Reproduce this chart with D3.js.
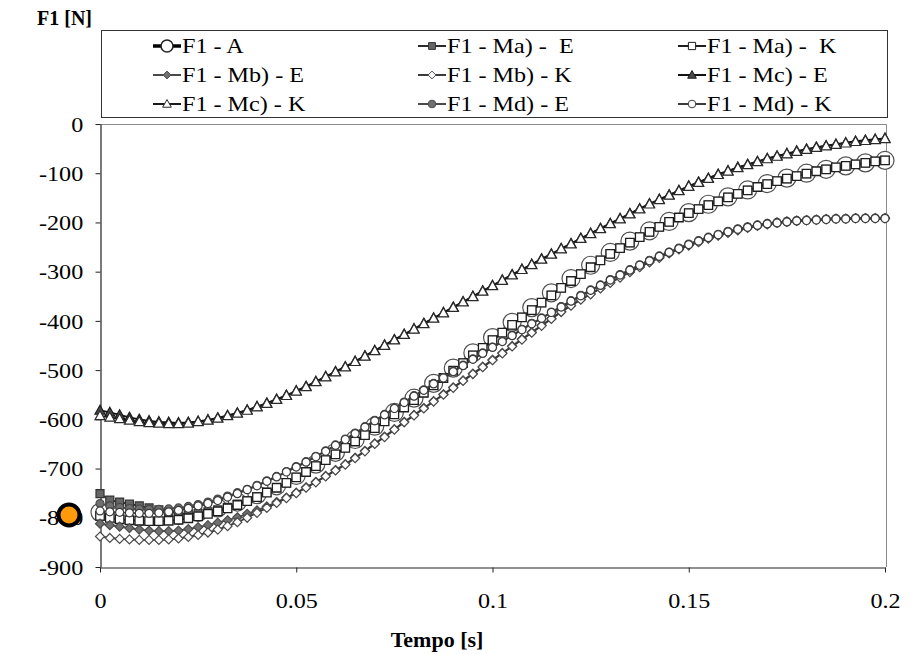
<!DOCTYPE html>
<html>
<head>
<meta charset="utf-8">
<script src="https://cdn.jsdelivr.net/npm/d3@7"></script>
<style>
  html, body { margin: 0; padding: 0; background: #fff; }
  svg { display: block; }
  text { font-family: "Liberation Serif", "Times New Roman", serif; fill: #000; }
</style>
</head>
<body>
<svg id="chart" width="915" height="654"></svg>
<script>
// Sample times [s]
const tFine = [0,0.0025,0.005,0.0075,0.01,0.0125,0.015,0.0175,0.02,0.0225,
  0.025,0.0275,0.03,0.0325,0.035,0.0375,0.04,0.0425,0.045,0.0475,
  0.05,0.0525,0.055,0.0575,0.06,0.0625,0.065,0.0675,0.07,0.0725,
  0.075,0.0775,0.08,0.0825,0.085,0.0875,0.09,0.0925,0.095,0.0975,
  0.1,0.1025,0.105,0.1075,0.11,0.1125,0.115,0.1175,0.12,0.1225,
  0.125,0.1275,0.13,0.1325,0.135,0.1375,0.14,0.1425,0.145,0.1475,
  0.15,0.1525,0.155,0.1575,0.16,0.1625,0.165,0.1675,0.17,0.1725,
  0.175,0.1775,0.18,0.1825,0.185,0.1875,0.19,0.1925,0.195,0.1975,0.2];
const tCoarse = [0,0.005,0.01,0.015,0.02,0.025,0.03,0.035,0.04,0.045,
  0.05,0.055,0.06,0.065,0.07,0.075,0.08,0.085,0.09,0.095,
  0.1,0.105,0.11,0.115,0.12,0.125,0.13,0.135,0.14,0.145,
  0.15,0.155,0.16,0.165,0.17,0.175,0.18,0.185,0.19,0.195,0.2];

// F1 [N]
const f1A = [-789,-795,-798,-798,-795,-789,-780,-768,-753,-735,
  -714,-691,-667,-641,-614,-586,-557,-527,-496,-465,
  -434,-403,-373,-343,-314,-287,-261,-238,-217,-198,
  -180,-163,-148,-134,-121,-110,-100,-92,-85,-79,-74];
const f1MaE = [-751,-764,-768,-772,-776,-780,-784,-788,-791,-792,
  -791,-788,-784,-779,-772,-765,-757,-748,-739,-729,
  -718,-707,-695,-683,-671,-658,-645,-632,-618,-604,
  -590,-576,-561,-546,-531,-516,-501,-486,-470,-455,
  -439,-424,-408,-393,-378,-363,-348,-333,-319,-305,
  -291,-277,-264,-252,-241,-230,-219,-209,-199,-190,
  -181,-173,-165,-157,-149,-142,-135,-128,-122,-116,
  -111,-106,-101,-96,-92,-88,-85,-82,-79,-76,-74];
const f1MaK = [-796,-800,-803,-805,-806,-807,-807,-806,-804,-801,
  -797,-792,-787,-781,-774,-766,-758,-749,-739,-729,
  -718,-707,-695,-683,-671,-658,-645,-632,-618,-604,
  -590,-576,-561,-546,-531,-516,-501,-486,-470,-455,
  -439,-424,-408,-393,-378,-363,-348,-333,-319,-305,
  -291,-277,-264,-252,-241,-230,-219,-209,-199,-190,
  -181,-173,-165,-157,-149,-142,-135,-128,-122,-116,
  -111,-106,-101,-96,-92,-88,-85,-82,-79,-76,-74];
const f1MbE = [-812,-815,-818,-821,-824,-826,-827,-827,-826,-823,
  -819,-815,-810,-805,-799,-792,-785,-777,-768,-759,
  -749,-738,-727,-715,-703,-691,-678,-664,-649,-635,
  -620,-605,-591,-577,-563,-549,-535,-521,-507,-493,
  -479,-465,-451,-437,-423,-409,-395,-381,-368,-356,
  -345,-333,-322,-311,-300,-290,-280,-271,-262,-254,
  -246,-239,-232,-226,-220,-215,-210,-206,-203,-200,
  -198,-196,-195,-194,-193,-192,-192,-191,-191,-191,-191];
const f1MbK = [-838,-841,-843,-844,-845,-845,-845,-844,-842,-839,
  -835,-830,-824,-817,-809,-800,-790,-780,-770,-760,
  -750,-739,-728,-716,-704,-692,-679,-665,-650,-636,
  -621,-606,-592,-578,-564,-550,-536,-522,-508,-494,
  -480,-466,-452,-438,-424,-410,-396,-382,-369,-357,
  -346,-334,-323,-312,-301,-291,-281,-272,-263,-255,
  -247,-240,-233,-227,-221,-216,-211,-207,-204,-201,
  -199,-197,-196,-195,-194,-193,-193,-192,-192,-192,-192];
const f1McE = [-582,-586,-591,-596,-600,-603,-605,-606,-607,-606,
  -604,-601,-597,-592,-587,-581,-574,-567,-559,-551,
  -542,-533,-523,-513,-503,-493,-482,-471,-460,-449,
  -438,-427,-416,-405,-394,-383,-372,-361,-350,-339,
  -328,-317,-306,-295,-285,-274,-264,-253,-243,-232,
  -222,-212,-202,-192,-182,-172,-162,-153,-144,-135,
  -126,-118,-110,-102,-95,-88,-82,-76,-70,-65,
  -60,-55,-51,-47,-44,-41,-38,-35,-33,-31,-29];
const f1McK = [-593,-596,-599,-602,-605,-607,-608,-609,-609,-608,
  -605,-602,-598,-593,-588,-582,-575,-568,-560,-552,
  -543,-534,-524,-514,-504,-494,-483,-472,-461,-450,
  -439,-428,-417,-406,-395,-384,-373,-362,-351,-340,
  -329,-318,-307,-296,-286,-275,-265,-254,-244,-233,
  -223,-213,-203,-193,-183,-173,-163,-154,-145,-136,
  -127,-119,-111,-103,-96,-89,-83,-77,-71,-66,
  -61,-56,-52,-48,-45,-42,-39,-36,-34,-32,-30];
const f1MdE = [-771,-776,-779,-781,-782,-783,-783,-782,-780,-777,
  -773,-768,-762,-756,-749,-742,-734,-725,-716,-706,
  -696,-686,-675,-664,-652,-640,-628,-615,-602,-590,
  -577,-565,-552,-540,-527,-515,-502,-490,-477,-465,
  -453,-441,-429,-417,-405,-394,-382,-371,-359,-348,
  -337,-327,-316,-306,-296,-286,-277,-268,-260,-252,
  -244,-237,-230,-224,-218,-213,-209,-205,-202,-200,
  -198,-196,-195,-194,-193,-192,-192,-191,-191,-191,-191];
const f1MdK = [-786,-788,-789,-790,-791,-791,-790,-788,-785,-781,
  -776,-771,-765,-758,-751,-743,-735,-726,-717,-707,
  -697,-687,-676,-665,-653,-641,-629,-616,-603,-591,
  -578,-566,-553,-541,-528,-516,-503,-491,-478,-466,
  -454,-442,-430,-418,-406,-395,-383,-372,-360,-349,
  -338,-328,-317,-307,-297,-287,-278,-269,-261,-253,
  -245,-238,-231,-225,-219,-214,-210,-206,-203,-201,
  -199,-197,-196,-195,-194,-193,-193,-192,-192,-192,-192];

const seriesNames = ["F1 - A", "F1 - Ma) -  E", "F1 - Ma) -  K",
  "F1 - Mb) - E", "F1 - Mb) - K", "F1 - Mc) - E",
  "F1 - Mc) - K", "F1 - Md) - E", "F1 - Md) - K"];

const xTicks = [0, 0.05, 0.1, 0.15, 0.2];
const xTickLabels = ["0", "0.05", "0.1", "0.15", "0.2"];
const yTicks = [0, -100, -200, -300, -400, -500, -600, -700, -800, -900];
const yTickLabels = ["0", "-100", "-200", "-300", "-400", "-500", "-600", "-700", "-800", "-900"];

// marker styles per series (drawn in series order, later on top)
const styles = [
  { t: tCoarse, v: f1A,   shape: "circle",   size: 9,   fill: "#fff",    stroke: "#505050", sw: 1.2, line: "#111", lw: 2.2 },
  { t: tFine,   v: f1MaE, shape: "square",   size: 8,   fill: "#666",    stroke: "#333", sw: 1.2, line: "#2a2a2a", lw: 1.8 },
  { t: tFine,   v: f1MaK, shape: "square",   size: 8.5, fill: "#fff",    stroke: "#1e1e1e", sw: 1.3, line: "#1e1e1e", lw: 1.8 },
  { t: tFine,   v: f1MbE, shape: "diamond",  size: 8,   fill: "#707070", stroke: "#4a4a4a", sw: 1.2, line: "#4a4a4a", lw: 1.8 },
  { t: tFine,   v: f1MbK, shape: "diamond",  size: 8,   fill: "#fff",    stroke: "#4a4a4a", sw: 1.2, line: "#3a3a3a", lw: 1.8 },
  { t: tFine,   v: f1McE, shape: "triangle", size: 9,   fill: "#4a4a4a", stroke: "#1a1a1a", sw: 1.2, line: "#111", lw: 1.8 },
  { t: tFine,   v: f1McK, shape: "triangle", size: 9,   fill: "#fff",    stroke: "#2a2a2a", sw: 1.2, line: "#1a1a1a", lw: 1.8 },
  { t: tFine,   v: f1MdE, shape: "circle",   size: 4,   fill: "#707070", stroke: "#4a4a4a", sw: 1.2, line: "#4a4a4a", lw: 1.8 },
  { t: tFine,   v: f1MdK, shape: "circle",   size: 4,   fill: "#fff",    stroke: "#3a3a3a", sw: 1.2, line: "#3a3a3a", lw: 1.8 }
];

const svg = d3.select("#chart");
const plot = { left: 100, right: 885, top: 124, bottom: 567 };

const x = d3.scaleLinear().domain([0, 0.2]).range([plot.left, plot.right]);
const y = d3.scaleLinear().domain([-900, 0]).range([plot.bottom, plot.top]);

const FONT = 21;
const STRETCH = 1.15;

// plot frame (top and right edges)
svg.append("path")
  .attr("d", `M${plot.left},${plot.top + 0.5}H${plot.right + 1.5}V${plot.bottom}`)
  .attr("fill", "none").attr("stroke", "#8a8a8a").attr("stroke-width", 1);

// axes
const yAxis = svg.append("g")
  .attr("transform", `translate(${plot.left + 0.5},0)`)
  .call(d3.axisLeft(y).tickValues(yTicks).tickFormat((d, i) => yTickLabels[i]).tickSizeInner(5).tickSizeOuter(0).tickPadding(10));
const xAxis = svg.append("g")
  .attr("transform", `translate(0,${plot.bottom + 0.5})`)
  .call(d3.axisBottom(x).tickValues(xTicks).tickFormat((d, i) => xTickLabels[i]).tickSizeInner(5).tickSizeOuter(0).tickPadding(21));

[yAxis, xAxis].forEach(ax => {
  ax.select(".domain").attr("stroke", "#222").attr("stroke-width", 1.2);
  ax.selectAll(".tick line").attr("stroke", "#222");
  ax.selectAll(".tick text")
    .attr("font-family", "'Liberation Serif', 'Times New Roman', serif")
    .attr("font-size", FONT).attr("fill", "#000")
    .attr("transform", `scale(${STRETCH},1)`);
});
yAxis.selectAll(".tick text").attr("dy", "0.34em");

function symbolPath(shape, size) {
  if (shape === "circle") return d3.symbol(d3.symbolCircle, Math.PI * size * size)();
  if (shape === "square") return d3.symbol(d3.symbolSquare, size * size)();
  if (shape === "diamond") {
    const h = size / 2 + 0.5;
    return `M0,${-h}L${h},0L0,${h}L${-h},0Z`;
  }
  if (shape === "triangle") {
    const w = size / 2 + 0.5, h = size;
    return `M0,${-h * 0.58}L${w},${h * 0.42}L${-w},${h * 0.42}Z`;
  }
}

const line = d3.line().x(d => x(d[0])).y(d => y(d[1]));

// series: line then markers
styles.forEach((s, k) => {
  const pts = s.t.map((t, i) => [t, s.v[i]]);
  const g = svg.append("g").attr("class", "series-" + k);
  g.append("path").datum(pts).attr("d", line)
    .attr("fill", "none").attr("stroke", s.line).attr("stroke-width", s.lw);
  g.selectAll("path.m").data(pts).join("path").attr("class", "m")
    .attr("d", symbolPath(s.shape, s.size))
    .attr("transform", d => `translate(${x(d[0])},${y(d[1])})`)
    .attr("fill", s.fill).attr("stroke", s.stroke).attr("stroke-width", s.sw);
});

// legend
const legend = svg.append("g");
legend.append("rect").attr("x", 101.5).attr("y", 30.5).attr("width", 786).attr("height", 87)
  .attr("fill", "#fff").attr("stroke", "#333").attr("stroke-width", 1);
const colX = [167, 432, 692];
const rowY = [46, 75, 104];
styles.forEach((s, k) => {
  const cx = colX[k % 3], cy = rowY[Math.floor(k / 3)];
  const g = legend.append("g").attr("transform", `translate(${cx},${cy})`);
  g.append("line").attr("x1", -14).attr("x2", 14).attr("y1", 0).attr("y2", 0)
    .attr("stroke", k === 0 ? "#000" : s.line).attr("stroke-width", k === 0 ? 3.5 : 2);
  const ms = k === 0 ? 6 : (s.shape === "circle" ? 3.8 : s.size * 0.85);
  g.append("path").attr("d", symbolPath(s.shape, ms))
    .attr("fill", s.fill).attr("stroke", k === 0 ? "#222" : s.stroke).attr("stroke-width", k === 0 ? 1.5 : 1);
  legend.append("text")
    .attr("transform", `translate(${cx + 15},${cy + 7}) scale(${STRETCH},1)`)
    .attr("font-size", FONT).style("white-space", "pre")
    .text(seriesNames[k]);
});

// axis titles
svg.append("text").attr("transform", "translate(37,25)")
  .attr("font-size", 20).attr("font-weight", "bold").text("F1 [N]");
svg.append("text").attr("transform", "translate(437,647) scale(1.1,1)")
  .attr("text-anchor", "middle").attr("font-size", 20).attr("font-weight", "bold").text("Tempo [s]");

// highlighted marker on the value axis
svg.append("circle").attr("cx", 69).attr("cy", 515).attr("r", 10.5)
  .attr("fill", "#FF9A0A").attr("stroke", "#000").attr("stroke-width", 4);
</script>
</body>
</html>
